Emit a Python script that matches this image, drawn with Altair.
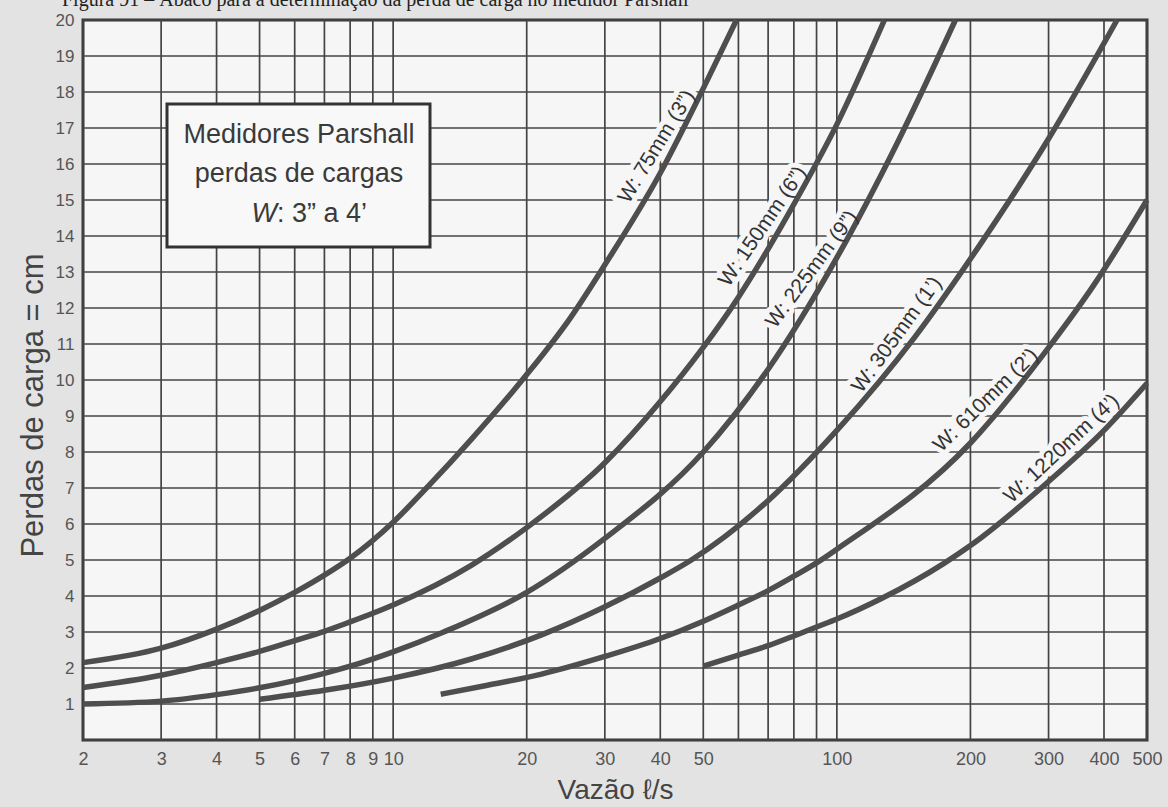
import altair as alt
import numpy as np
import pandas as pd

# ---- data ----
curve_names = ["W: 75mm (3”)", "W: 150mm (6”)", "W: 225mm (9”)",
               "W: 305mm (1’)", "W: 610mm (2’)", "W: 1220mm (4’)"]

q_75 = [2, 3, 4, 5, 6, 7, 8, 10, 12, 15, 20, 25, 30, 40, 50, 59.4]
h_75 = [2.15, 2.55, 3.08, 3.6, 4.1, 4.58, 5.05, 6.05, 7.05, 8.35, 10.15, 11.7, 13.2, 15.75, 18.1, 20]

q_150 = [2, 3, 4, 5, 6, 7, 8, 9, 10, 15, 20, 30, 40, 60, 81, 100, 128]
h_150 = [1.46, 1.8, 2.15, 2.46, 2.76, 3.02, 3.28, 3.52, 3.75, 4.85, 5.9, 7.7, 9.4, 12.3, 15, 17.1, 20]

q_225 = [2, 3, 4, 5, 6, 7, 8, 10, 13, 20, 30, 50, 70, 100, 137, 185]
h_225 = [1.0, 1.08, 1.26, 1.45, 1.65, 1.85, 2.05, 2.45, 3.0, 4.1, 5.6, 8.0, 10.3, 13.4, 16.6, 20]

q_305 = [5, 7, 10, 15, 21.6, 30, 40, 47, 70, 100, 150, 214, 300, 428]
h_305 = [1.13, 1.38, 1.72, 2.25, 2.92, 3.7, 4.5, 5.0, 6.65, 8.6, 11.2, 13.9, 16.7, 20]

q_610 = [12.8, 16, 21.6, 30, 40, 50, 60, 70, 80, 90, 100, 200, 300, 380, 500]
h_610 = [1.27, 1.5, 1.83, 2.32, 2.82, 3.3, 3.75, 4.15, 4.55, 4.92, 5.3, 8.25, 10.9, 12.65, 15]

q_1220 = [50, 60, 70, 80, 90, 100, 127, 174, 200, 300, 400, 500]
h_1220 = [2.05, 2.36, 2.62, 2.89, 3.14, 3.36, 3.95, 4.9, 5.4, 7.18, 8.6, 9.91]

# where each curve label sits (flow along the curve) and its slant
label_q = [42.0, 72.7, 93.6, 145.6, 229, 339]
label_angle = [301.4, 304.2, 306.4, 306, 315.5, 317]

x_tick_values = [2, 3, 4, 5, 6, 7, 8, 9, 10, 20, 30, 40, 50, 100, 200, 300, 400, 500]
x_grid_values = [2, 3, 4, 5, 6, 7, 8, 9, 10, 20, 30, 40, 50, 60, 70, 80, 90, 100, 200, 300, 400, 500]
y_tick_values = list(range(1, 21))
y_grid_values = list(range(0, 21))

# ---- tables ----
series = [q_75, q_150, q_225, q_305, q_610, q_1220]
heights = [h_75, h_150, h_225, h_305, h_610, h_1220]
rows = []
for name, qs, hs in zip(curve_names, series, heights):
    for i, (q, h) in enumerate(zip(qs, hs)):
        rows.append({"curve": name, "Q": q, "h": h, "order": i})
curves = pd.DataFrame(rows)

label_h = [float(np.interp(np.log10(lq), np.log10(qs), hs))
           for lq, qs, hs in zip(label_q, series, heights)]
labels = pd.DataFrame({"Q": label_q, "h": label_h, "text": curve_names, "angle": label_angle})

PLOT_BG = "#f6f6f6"
LINE = "#4e4e4e"
GRID = "#444444"
FONT = "Liberation Sans"

xs = alt.Scale(type="log", domain=[2, 500], nice=False)
ys = alt.Scale(domain=[0, 20], nice=False, zero=False)

x_axis = alt.Axis(
    values=x_tick_values, format="d", grid=False, ticks=False, domain=False,
    labelFont=FONT, labelFontSize=18, labelColor="#555555", labelPadding=10,
    labelOverlap=False, labelFlush=False,
    title="Vazão ℓ/s", titleFont=FONT, titleFontSize=28, titleFontWeight="normal",
    titleColor="#444444", titleX=532, titleY=50, titleBaseline="middle", titleAlign="center",
)
y_axis = alt.Axis(
    values=y_tick_values, format="d", grid=False, ticks=False, domain=False,
    labelFont=FONT, labelFontSize=17, labelColor="#555555", labelPadding=9,
    labelOverlap=False, labelFlush=False,
    title="Perdas de carga = cm", titleFont=FONT, titleFontSize=31, titleFontWeight="normal",
    titleColor="#444444", titleAngle=270, titleX=-50, titleY=385,
    titleAlign="center", titleBaseline="middle",
)


def X():
    return alt.X("Q:Q", scale=xs, axis=x_axis)


def Y():
    return alt.Y("h:Q", scale=ys, axis=y_axis)


vgrid = alt.Chart(pd.DataFrame({"Q": x_grid_values})).mark_rule(
    color=GRID, strokeWidth=1.7
).encode(x=X())

hgrid = alt.Chart(pd.DataFrame({"h": y_grid_values})).mark_rule(
    color=GRID, strokeWidth=1.7
).encode(y=Y())

one = pd.DataFrame({"a": [0]})
box = alt.Chart(one).mark_rect(fill="#f8f8f8", stroke="#333333", strokeWidth=3).encode(
    x=alt.value(84), x2=alt.value(347), y=alt.value(84), y2=alt.value(227)
)


def box_text(txt, x, y, align="center", style="normal"):
    return alt.Chart(one).mark_text(
        text=txt, font=FONT, fontSize=27, fontStyle=style, color="#3a3a3a",
        align=align, baseline="alphabetic"
    ).encode(x=alt.value(x), y=alt.value(y))


box_t1 = box_text("Medidores Parshall", 216, 123)
box_t2 = box_text("perdas de cargas", 216, 162)
box_t3a = box_text("W", 194, 202, align="right", style="italic")
box_t3b = box_text(": 3” a 4’", 194, 202, align="left")

header = alt.Chart(one).mark_text(
    text="Figura 91 – Ábaco para a determinação da perda de carga no medidor Parshall",
    font="Liberation Serif", fontSize=20, color="#222222", align="left", baseline="alphabetic"
).encode(x=alt.value(-21), y=alt.value(-14))

halo = alt.Chart(labels).mark_text(
    font=FONT, fontSize=21, align="center", baseline="alphabetic", dy=-9,
    fill=PLOT_BG, stroke=PLOT_BG, strokeWidth=10, strokeJoin="round"
).encode(
    x=X(), y=Y(), text="text:N",
    angle=alt.Angle("angle:Q", scale=None),
)

lines = alt.Chart(curves).mark_line(
    color=LINE, strokeWidth=5.5, interpolate="monotone", strokeCap="butt"
).encode(
    x=X(), y=Y(),
    detail="curve:N",
    order="order:Q",
)

text = alt.Chart(labels).mark_text(
    font=FONT, fontSize=21, align="center", baseline="alphabetic", dy=-9, color="#333333"
).encode(
    x=X(), y=Y(), text="text:N",
    angle=alt.Angle("angle:Q", scale=None),
)

chart = alt.layer(
    vgrid, hgrid, box, box_t1, box_t2, box_t3a, box_t3b, header, halo, lines, text
).properties(
    width=1064, height=720,
    autosize=alt.AutoSizeParams(type="none"),
    padding={"left": 83, "top": 20, "right": 21, "bottom": 67},
    background="#e3e3e3",
).configure_view(
    stroke="#333333", strokeWidth=3, fill=PLOT_BG
)

chart.save("out.html", embed_options={"renderer": "svg", "actions": False})
